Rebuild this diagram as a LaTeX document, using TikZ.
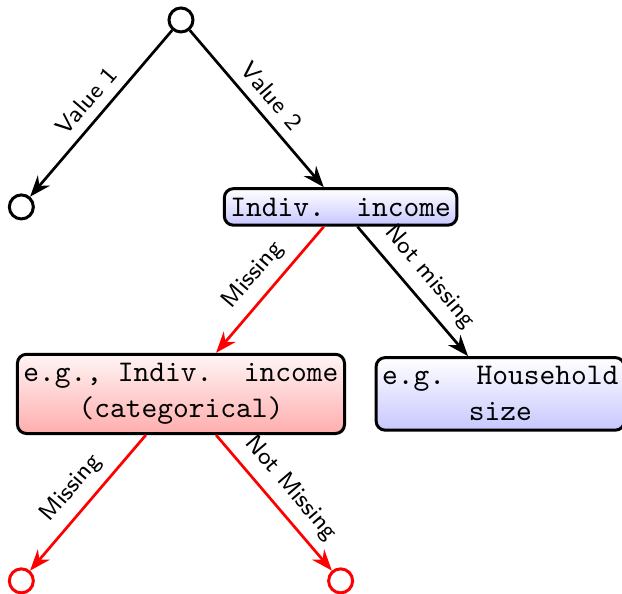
\documentclass[tikz,border=0pt]{standalone}
\usepackage{tikz}
\usetikzlibrary{arrows.meta}

\begin{document}
\begin{tikzpicture}[x=1cm,y=1cm,
    leaf/.style={circle,draw,line width=1pt,minimum size=8pt,inner sep=0pt},
    redleaf/.style={leaf,draw=red},
    splitbox/.style={draw,line width=1pt,rounded corners=3pt,inner xsep=2pt,inner ysep=3pt,font=\ttfamily,align=center},
    bluebox/.style={splitbox,top color=white,bottom color=blue!22},
    redbox/.style={splitbox,top color=red!4,bottom color=red!32},
    branch/.style={line width=0.9pt,-{Stealth}},
    lbl/.style={font=\sffamily\footnotesize,sloped,above,midway}]
    \def\lev{2.19}\def\sib{1.87}
    \useasboundingbox (-2.120,0.234) rectangle (5.166,-6.713);
    % Root split
    \node[leaf] (root) at (0,0) {};
    \node[leaf] (valone) at (-\sib,-\lev) {};
    \node[bluebox] (income) at (\sib,-\lev) {Indiv.\ \ income};
    % Second level
    \node[redbox] (incat) at (0,-2*\lev) {e.g., Indiv.\ \ income\\(categorical)};
    \node[bluebox] (house) at (2*\sib,-2*\lev) {e.g.\ \ Household\\size};
    % Leaves of the categorical split
    \node[redleaf] (catmiss) at (-\sib,-3*\lev) {};
    \node[redleaf] (catnotmiss) at (\sib,-3*\lev) {};
    % Branches
    \draw[branch] (root) -- (valone) node[lbl] {Value 1};
    \draw[branch] (root) -- (income) node[lbl] {Value 2};
    \draw[branch,red] (income) -- (incat) node[lbl,black] {Missing};
    \draw[branch] (income) -- (house) node[lbl] {Not missing};
    \draw[branch,red] (incat) -- (catmiss) node[lbl,black] {Missing};
    \draw[branch,red] (incat) -- (catnotmiss) node[lbl,black] {Not Missing};
\end{tikzpicture}
\end{document}
